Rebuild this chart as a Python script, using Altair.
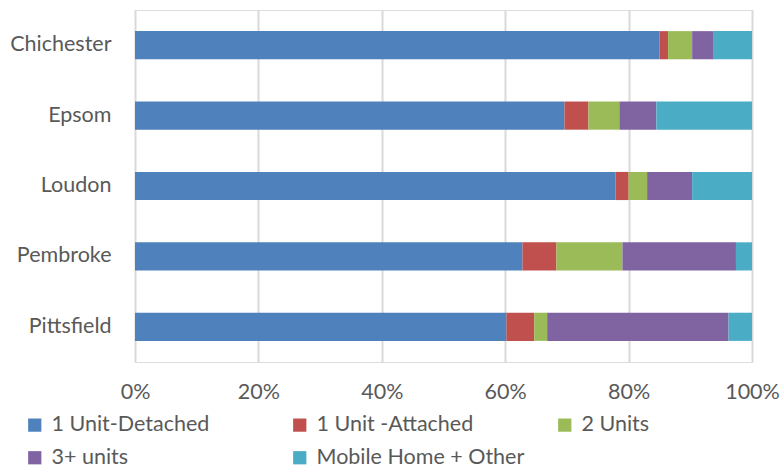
import altair as alt
import pandas as pd

towns = ["Chichester", "Epsom", "Loudon", "Pembroke", "Pittsfield"]
series = ["1 Unit-Detached", "1 Unit -Attached", "2 Units", "3+ units", "Mobile Home + Other"]
detached = [85.0, 69.6, 77.9, 62.8, 60.2]
attached = [1.4, 3.9, 2.1, 5.5, 4.5]
two_units = [3.9, 5.0, 3.0, 10.7, 2.1]
three_plus = [3.5, 6.0, 7.3, 18.4, 29.4]
mobile = [6.2, 15.5, 9.7, 2.6, 3.8]
colors = ["#4F81BD", "#C0504D", "#9BBB59", "#8064A2", "#4BACC6"]
x_ticks = [0, 0.2, 0.4, 0.6, 0.8, 1.0]

FONT = "Lato"
TEXT = "#595959"
FS = 21.5

rows = []
for si, (name, vals) in enumerate(zip(series, [detached, attached, two_units, three_plus, mobile])):
    for t, v in zip(towns, vals):
        rows.append({"town": t, "series": name, "value": v, "order": si})
df = pd.DataFrame(rows)

chart = alt.Chart(df).mark_bar().encode(
    y=alt.Y("town:N", sort=towns,
            scale=alt.Scale(paddingInner=0.6, paddingOuter=0.3),
            axis=alt.Axis(title=None, domain=False, ticks=False, labelFontSize=FS,
                          labelColor=TEXT, labelFont=FONT, labelPadding=24)),
    x=alt.X("value:Q", stack="normalize", scale=alt.Scale(domain=[0, 1], nice=False),
            axis=alt.Axis(title=None, format="%", values=x_ticks, domain=False, ticks=False,
                          grid=True, gridColor="#D9D9D9", gridWidth=2, labelFlush=False,
                          labelFontSize=FS, labelColor=TEXT, labelFont=FONT, labelPadding=19)),
    color=alt.Color("series:N", sort=series,
                    scale=alt.Scale(domain=series, range=colors),
                    legend=alt.Legend(title=None, orient="none", legendX=-111, legendY=404,
                                      direction="horizontal",
                                      columns=3, gridAlign="all", columnPadding=29,
                                      rowPadding=10, symbolType="square", symbolSize=175,
                                      symbolStrokeWidth=0, labelFontSize=FS, labelColor=TEXT,
                                      labelFont=FONT, labelOffset=6, labelLimit=400)),
    order=alt.Order("order:Q", sort="ascending"),
).properties(
    width=617, height=352,
    autosize=alt.AutoSizeParams(type="none"),
    padding={"left": 135, "top": 10, "right": 28, "bottom": 107},
).configure_view(stroke=None).configure(background="white")

chart.save("out.html", embed_options={"renderer": "svg", "actions": False})
